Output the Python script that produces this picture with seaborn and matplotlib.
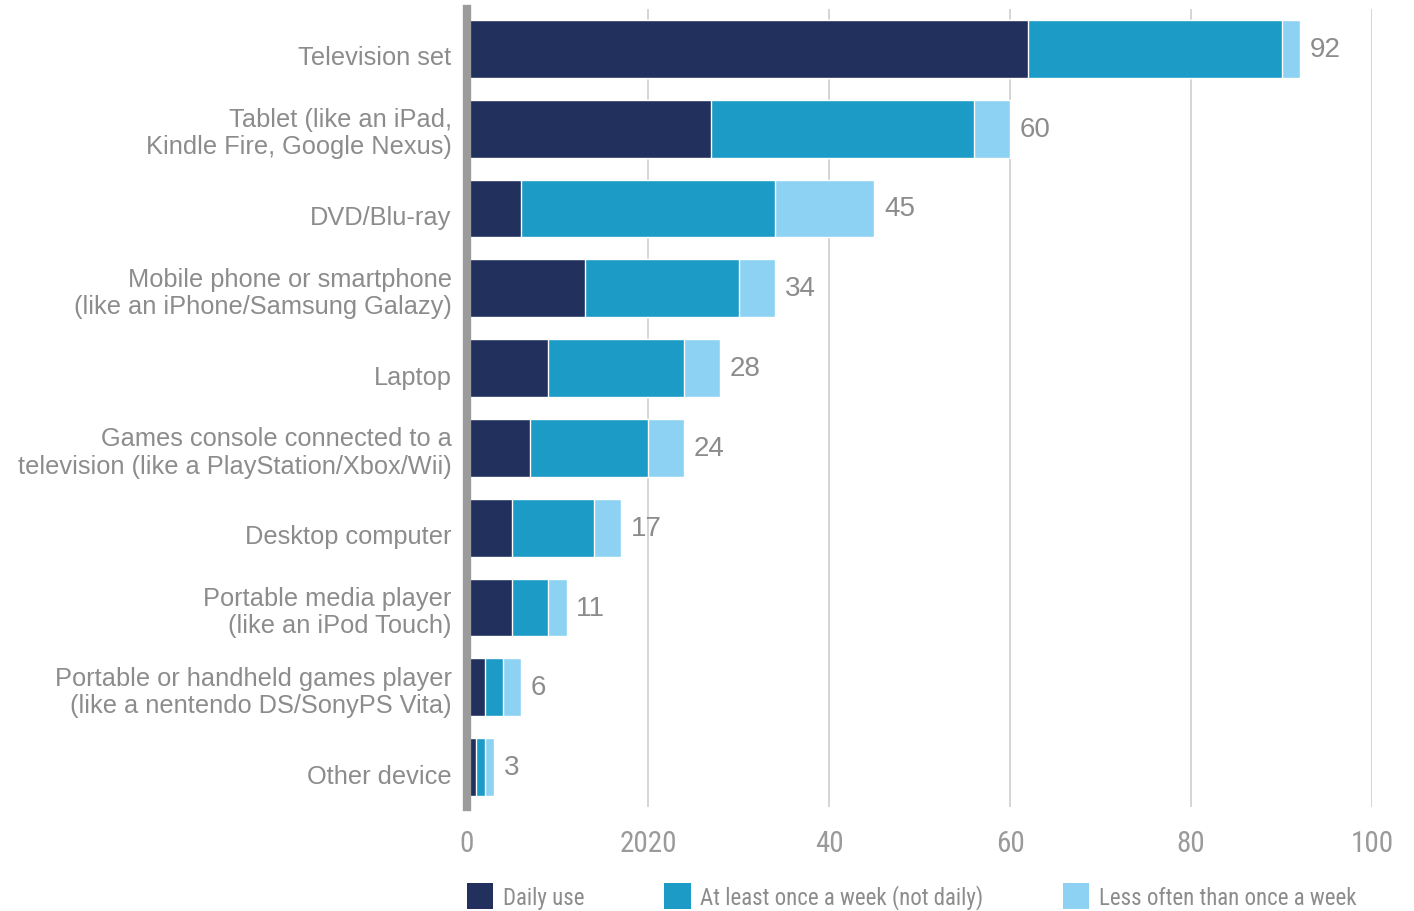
import matplotlib
matplotlib.use("Agg")
import matplotlib.pyplot as plt
from matplotlib import font_manager
from matplotlib.patches import Patch
from matplotlib.transforms import ScaledTranslation
import seaborn as sns
import pandas as pd
import numpy as np

# ---- data -------------------------------------------------------------
devices = [
    "Television set",
    "Tablet (like an iPad,\nKindle Fire, Google Nexus)",
    "DVD/Blu-ray",
    "Mobile phone or smartphone\n(like an iPhone/Samsung Galazy)",
    "Laptop",
    "Games console connected to a\ntelevision (like a PlayStation/Xbox/Wii)",
    "Desktop computer",
    "Portable media player\n(like an iPod Touch)",
    "Portable or handheld games player\n(like a nentendo DS/SonyPS Vita)",
    "Other device",
]
daily = [62, 27, 6, 13, 9, 7, 5, 5, 2, 1]
weekly = [28, 29, 28, 17, 15, 13, 9, 4, 2, 1]
less_often = [2, 4, 11, 4, 4, 4, 3, 2, 2, 1]

series_names = ["Daily use", "At least once a week (not daily)", "Less often than once a week"]
x_ticks = [0, 20, 40, 60, 80, 100]
x_tick_labels = ["0", "2020", "40", "60", "80", "100"]

# ---- styling ----------------------------------------------------------
COL_DAILY = "#22305e"
COL_WEEKLY = "#1b9bc6"
COL_LESS = "#8dd2f2"
TEXT_GREY = "#8c8c8c"
TICK_GREY = "#9a9a9a"
GRID_GREY = "#d2d2d2"
SPINE_GREY = "#9b9b9b"


def first_font(*names):
    for n in names:
        try:
            font_manager.findfont(n, fallback_to_default=False)
            return n
        except Exception:
            continue
    return "DejaVu Sans"


sns.set_theme(style="white")
body_font = first_font("Liberation Sans", "Arial", "DejaVu Sans")
narrow_font = first_font("Liberation Sans Narrow", "Roboto Condensed", "Liberation Sans")
plt.rcParams["font.family"] = [body_font, "DejaVu Sans"]

df = pd.DataFrame({
    "device": devices,
    "daily": daily,
    "weekly": weekly,
    "less": less_often,
})
df["cum_weekly"] = df["daily"] + df["weekly"]
df["total"] = df["cum_weekly"] + df["less"]

fig = plt.figure(figsize=(14.14, 9.12), dpi=100)
ax = fig.add_axes([467 / 1414, 1 - 808 / 912, 905 / 1414, 798 / 912])

bar_w = 0.725
# stacked bars: draw the running totals from the outermost segment inwards
sns.barplot(data=df, x="total", y="device", color=COL_LESS, width=bar_w,
            saturation=1, errorbar=None, orient="h", ax=ax, zorder=2)
sns.barplot(data=df, x="cum_weekly", y="device", color=COL_WEEKLY, width=bar_w,
            saturation=1, errorbar=None, orient="h", ax=ax, zorder=2)
sns.barplot(data=df, x="daily", y="device", color=COL_DAILY, width=bar_w,
            saturation=1, errorbar=None, orient="h", ax=ax, zorder=2)

# total labels at the end of each bar
ax.bar_label(ax.containers[0], labels=[str(v) for v in df["total"]],
             padding=7, fontsize=20, color=TEXT_GREY, family=body_font)

ax.set_xlim(0, 100)
ax.set_ylim(len(devices) - 0.5, -0.5)
ax.set_xlabel("")
ax.set_ylabel("")

ax.set_xticks(x_ticks)
ax.set_xticklabels(x_tick_labels, fontsize=21, color=TICK_GREY, family=narrow_font)
ax.tick_params(axis="x", length=0, pad=16)
ax.tick_params(axis="y", length=0, pad=11, labelsize=18.3, labelcolor=TEXT_GREY)
for lbl in ax.get_yticklabels():
    lbl.set_horizontalalignment("right")
    lbl.set_linespacing(1.17)
    if "\n" not in lbl.get_text():
        # single-line labels sit slightly below the bar centre
        lbl.set_transform(lbl.get_transform() + ScaledTranslation(0, -6 / 100, fig.dpi_scale_trans))

ax.grid(axis="x", color=GRID_GREY, linewidth=1.3, zorder=0)
ax.grid(axis="y", visible=False)
ax.set_axisbelow(True)
for side in ("top", "right", "bottom"):
    ax.spines[side].set_visible(False)
ax.spines["left"].set_color(SPINE_GREY)
ax.spines["left"].set_linewidth(6)
ax.spines["left"].set_zorder(3)

handles = [Patch(facecolor=c, edgecolor="none") for c in (COL_DAILY, COL_WEEKLY, COL_LESS)]
leg = fig.legend(handles, series_names, loc="lower left",
                 bbox_to_anchor=(467 / 1414, 0.002), ncol=3, frameon=False,
                 handlelength=1.15, handleheight=1.35, handletextpad=0.4,
                 columnspacing=3.5, borderaxespad=0, borderpad=0,
                 prop={"family": narrow_font, "size": 16.5})
for t in leg.get_texts():
    t.set_color(TEXT_GREY)

fig.savefig("out.png", dpi=100, facecolor="white")
